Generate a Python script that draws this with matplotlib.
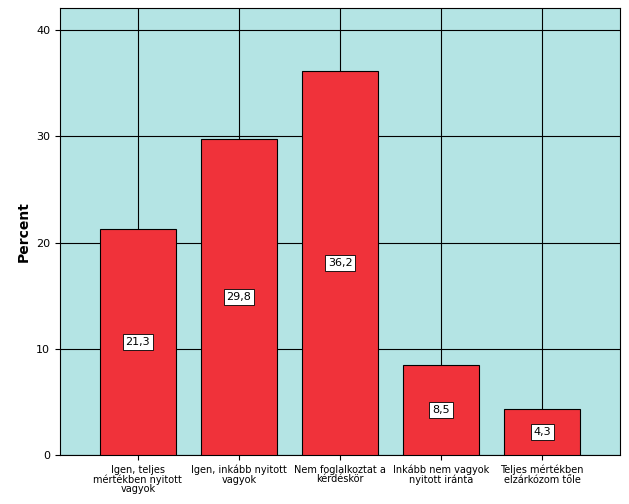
import matplotlib
matplotlib.use("Agg")
import matplotlib.pyplot as plt

categories = ["Igen, teljes\nmértékben nyitott\nvagyok", "Igen, inkább nyitott\nvagyok",
              "Nem foglalkoztat a\nkérdéskör", "Inkább nem vagyok\nnyitott iránta",
              "Teljes mértékben\nelzárkózom tőle"]
values = [21.3, 29.8, 36.2, 8.5, 4.3]
labels = ["21,3", "29,8", "36,2", "8,5", "4,3"]

fig = plt.figure(figsize=(6.29, 5.04), dpi=100)
ax = fig.add_axes([60/629, 49/504, 560/629, 447/504])
ax.set_facecolor("#B4E4E4")
x = range(len(values))
ax.bar(x, values, width=0.75, color="#F0323A", edgecolor="black", linewidth=0.8, zorder=3)
for i, (v, l) in enumerate(zip(values, labels)):
    ax.text(i, v/2, l, ha="center", va="center", fontsize=8, zorder=4,
            bbox=dict(facecolor="white", edgecolor="black", linewidth=0.6, pad=2))
ax.set_xlim(-0.77, 4.77)
ax.set_ylim(0, 42.1)
ax.set_yticks([0, 10, 20, 30, 40])
ax.set_xticks(list(x))
ax.set_xticklabels(categories, fontsize=7, linespacing=0.95)
ax.tick_params(axis="y", labelsize=8)
ax.grid(True, color="black", linewidth=0.8, zorder=1)
ax.set_ylabel("Percent", fontsize=10, fontweight="bold")
for s in ax.spines.values():
    s.set_linewidth(0.8)
fig.savefig("out.png", dpi=100)
